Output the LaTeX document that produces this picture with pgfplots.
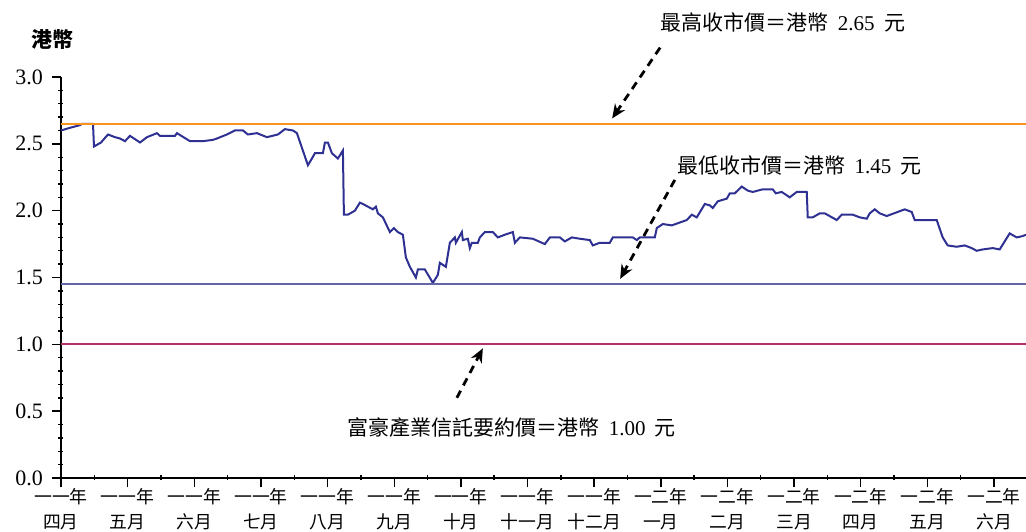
\documentclass[border=0pt]{standalone}
\usepackage{pgfplots}
\pgfplotsset{compat=1.18}
\usepackage{fontspec}
\setmainfont{Liberation Serif}
\newfontfamily\cjk{Noto Sans CJK TC}
\usetikzlibrary{arrows.meta}
\definecolor{price}{RGB}{46,49,146}
\definecolor{hiline}{RGB}{247,148,30}
\definecolor{loline}{RGB}{100,102,166}
\definecolor{offer}{RGB}{181,49,106}
\begin{document}
\begin{tikzpicture}
\useasboundingbox (-30.5pt,-26.5pt) rectangle (482.5pt,239pt);
\begin{axis}[
  at={(0,0)}, anchor=south west,
  scale only axis, width=482.5pt, height=200.5pt,
  xmin=0, xmax=14.48, ymin=0, ymax=3,
  axis lines*=left,
  axis line style={line width=1pt, black, -},
  clip=false,
  xtick={0,...,14},
  xticklabels={
    {一一年\\四月},{一一年\\五月},{一一年\\六月},{一一年\\七月},{一一年\\八月},
    {一一年\\九月},{一一年\\十月},{一一年\\十一月},{一一年\\十二月},{一二年\\一月},
    {一二年\\二月},{一二年\\三月},{一二年\\四月},{一二年\\五月},{一二年\\六月}},
  x tick label style={font=\cjk\fontsize{8.9pt}{12.5pt}\selectfont, align=center, yshift=2.8pt},
  minor x tick num=1,
  ytick={0,0.5,...,3},
  minor y tick num=4,
  yticklabel style={font=\fontsize{11pt}{13pt}\selectfont, xshift=-1pt},
  /pgf/number format/assume math mode=true,
  /pgf/number format/fixed, /pgf/number format/fixed zerofill, /pgf/number format/precision=1,
  tick align=outside,
  major tick length=4.5pt,
  minor tick length=2.5pt,
  every tick/.style={black, line width=0.7pt},
  minor y tick style={xshift=1.25pt},
  minor x tick style={yshift=1.6pt},
]
\addplot[price, line width=1pt] coordinates {
(0.00,2.60) (0.135,2.62) (0.285,2.64) (0.315,2.65) (0.48,2.65) (0.495,2.48)
(0.60,2.51) (0.705,2.57) (0.81,2.55) (0.885,2.54) (0.96,2.52) (1.035,2.56)
(1.185,2.51) (1.29,2.55) (1.44,2.58) (1.485,2.56) (1.71,2.56) (1.74,2.58)
(1.935,2.52) (2.13,2.52) (2.28,2.53) (2.34,2.54) (2.49,2.57) (2.61,2.60)
(2.73,2.60) (2.805,2.57) (2.94,2.58) (3.09,2.55) (3.255,2.57) (3.36,2.61)
(3.48,2.60) (3.54,2.58) (3.705,2.34) (3.765,2.39) (3.81,2.43) (3.93,2.43)
(3.96,2.51) (4.005,2.51) (4.065,2.43) (4.155,2.39) (4.23,2.45) (4.245,1.97)
(4.305,1.97) (4.41,2.00) (4.485,2.06) (4.53,2.05) (4.68,2.01) (4.725,2.03)
(4.755,1.98) (4.83,1.95) (4.935,1.84) (4.995,1.87) (5.055,1.84) (5.13,1.82)
(5.175,1.65) (5.235,1.58) (5.325,1.50) (5.355,1.56) (5.46,1.56) (5.58,1.46)
(5.655,1.52) (5.685,1.61) (5.775,1.58) (5.835,1.76) (5.91,1.80) (5.925,1.76)
(6.015,1.84) (6.03,1.78) (6.105,1.79) (6.135,1.72) (6.165,1.76) (6.255,1.76)
(6.285,1.80) (6.36,1.84) (6.48,1.84) (6.555,1.80) (6.66,1.82) (6.78,1.84)
(6.81,1.76) (6.885,1.80) (7.08,1.79) (7.26,1.75) (7.335,1.80) (7.485,1.80)
(7.56,1.77) (7.665,1.80) (7.785,1.79) (7.935,1.78) (7.98,1.74) (8.085,1.76)
(8.235,1.76) (8.28,1.80) (8.58,1.80) (8.64,1.78) (8.685,1.80) (8.91,1.80)
(8.94,1.87) (9.03,1.90) (9.165,1.89) (9.39,1.93) (9.465,1.97) (9.54,1.95)
(9.66,2.05) (9.735,2.04) (9.78,2.02) (9.855,2.07) (9.99,2.09) (10.035,2.13)
(10.11,2.13) (10.215,2.18) (10.305,2.15) (10.38,2.14) (10.455,2.15) (10.53,2.16)
(10.68,2.16) (10.725,2.13) (10.815,2.14) (10.935,2.10) (11.04,2.14) (11.19,2.14)
(11.205,1.95) (11.28,1.95) (11.385,1.98) (11.46,1.98) (11.64,1.93) (11.715,1.97)
(11.88,1.97) (11.985,1.95) (12.09,1.94) (12.135,1.98) (12.21,2.01) (12.285,1.98)
(12.39,1.96) (12.66,2.01) (12.765,1.99) (12.81,1.93) (13.14,1.93) (13.23,1.80)
(13.305,1.74) (13.44,1.73) (13.56,1.74) (13.665,1.72) (13.74,1.70) (13.83,1.71)
(13.98,1.72) (14.085,1.71) (14.235,1.83) (14.34,1.80) (14.43,1.81) (14.48,1.82)
};
\addplot[hiline, line width=1pt] coordinates {(0,2.65) (14.48,2.65)};
\addplot[loline, line width=0.9pt] coordinates {(0,1.45) (14.48,1.45)};
\addplot[offer, line width=0.9pt] coordinates {(0,1.00) (14.48,1.00)};

\node[font=\cjk\bfseries\fontsize{10.5pt}{12pt}\selectfont] at (axis cs:-0.12,3.28) {港幣};

\node[anchor=west, font=\fontsize{10.5pt}{12pt}\selectfont, inner sep=0pt] at (axis cs:8.99,3.41) {{\cjk 最高收市價＝港幣}\hspace{0.45em}2.65\hspace{0.45em}{\cjk 元}};
\node[anchor=west, font=\fontsize{10.5pt}{12pt}\selectfont, inner sep=0pt] at (axis cs:9.24,2.34) {{\cjk 最低收市價＝港幣}\hspace{0.45em}1.45\hspace{0.45em}{\cjk 元}};
\node[anchor=west, font=\fontsize{10.5pt}{12pt}\selectfont, inner sep=0pt] at (axis cs:4.29,0.38) {{\cjk 富豪產業信託要約價＝港幣}\hspace{0.45em}1.00\hspace{0.45em}{\cjk 元}};

\draw[black, line width=1.4pt, dash pattern=on 4pt off 3pt, -{Stealth[length=7pt,width=6pt]}] (axis cs:8.99,3.22) -- (axis cs:8.27,2.69);
\draw[black, line width=1.4pt, dash pattern=on 4pt off 3pt, -{Stealth[length=7pt,width=6pt]}] (axis cs:9.21,2.23) -- (axis cs:8.39,1.49);
\draw[black, line width=1.4pt, dash pattern=on 4pt off 3pt, -{Stealth[length=7pt,width=6pt]}] (axis cs:5.94,0.60) -- (axis cs:6.33,0.97);
\end{axis}
\end{tikzpicture}
\end{document}
